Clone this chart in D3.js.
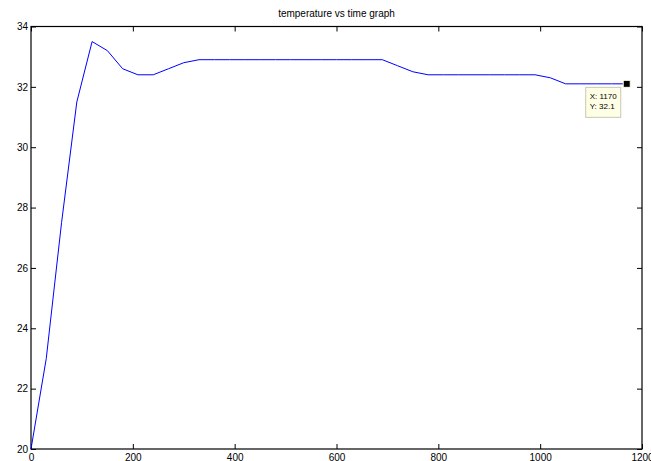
<!DOCTYPE html>
<html lang="en">
<head>
    <meta charset="UTF-8">
    <title>temperature vs time graph</title>
    <script src="https://d3js.org/d3.v7.min.js"></script>
    <style>
        html, body { margin: 0; padding: 0; background: #fff; overflow: hidden; }
        svg { display: block; font-family: "Liberation Sans", Arial, sans-serif; }
        .axis text { font-size: 10px; fill: #000; }
        .axis line { stroke: #000; }
    </style>
</head>
<body>
    <div id="chart"></div>
    <script>
        var chartTitle = "temperature vs time graph";

        var times = [0, 30, 60, 90, 120, 150, 180, 210, 240, 270, 300, 330, 360, 390,
            420, 450, 480, 510, 540, 570, 600, 630, 660, 690, 720, 750, 780, 810,
            840, 870, 900, 930, 960, 990, 1020, 1050, 1080, 1110, 1140, 1170];

        var temps = [20, 23, 27.5, 31.5, 33.5, 33.2, 32.6, 32.4, 32.4, 32.6, 32.8, 32.9,
            32.9, 32.9, 32.9, 32.9, 32.9, 32.9, 32.9, 32.9, 32.9, 32.9, 32.9, 32.9,
            32.7, 32.5, 32.4, 32.4, 32.4, 32.4, 32.4, 32.4, 32.4, 32.4, 32.3, 32.1,
            32.1, 32.1, 32.1, 32.1];

        var xTicks = [0, 200, 400, 600, 800, 1000, 1200];
        var yTicks = [20, 22, 24, 26, 28, 30, 32, 34];

        // data cursor point
        var cursorIndex = 39;

        var data = times.map(function (t, i) { return { t: t, v: temps[i] }; });

        var W = 651, H = 461;
        var margin = { top: 26.5, right: 9, bottom: 12, left: 31 },
            width = W - margin.left - margin.right,
            height = H - margin.top - margin.bottom;

        var svg = d3.select("#chart").append("svg")
            .attr("width", W)
            .attr("height", H);

        var g = svg.append("g")
            .attr("transform", "translate(" + margin.left + "," + margin.top + ")");

        var x = d3.scaleLinear().domain([0, 1200]).range([0, width]);
        var y = d3.scaleLinear().domain([20, 34]).range([height, 0]);

        // inward ticks, MATLAB style
        g.append("g")
            .attr("class", "axis")
            .attr("transform", "translate(0," + height + ")")
            .call(d3.axisBottom(x).tickValues(xTicks).tickFormat(d3.format("d"))
                .tickSizeInner(-5).tickSizeOuter(0).tickPadding(5))
            .call(function (s) { s.select(".domain").remove(); });

        g.append("g")
            .attr("class", "axis")
            .call(d3.axisTop(x).tickValues(xTicks).tickSizeInner(-5).tickSizeOuter(0).tickFormat(""))
            .call(function (s) { s.select(".domain").remove(); });

        g.append("g")
            .attr("class", "axis")
            .call(d3.axisLeft(y).tickValues(yTicks).tickSizeInner(-5).tickSizeOuter(0).tickPadding(3))
            .call(function (s) { s.select(".domain").remove(); });

        g.append("g")
            .attr("class", "axis")
            .attr("transform", "translate(" + width + ",0)")
            .call(d3.axisRight(y).tickValues(yTicks).tickSizeInner(-5).tickSizeOuter(0).tickFormat(""))
            .call(function (s) { s.select(".domain").remove(); });

        // box
        g.append("rect")
            .attr("x", 0)
            .attr("y", 0)
            .attr("width", width)
            .attr("height", height)
            .attr("fill", "none")
            .attr("stroke", "#000")
            .attr("stroke-width", 1.2);

        var line = d3.line()
            .x(function (d) { return x(d.t); })
            .y(function (d) { return y(d.v); });

        g.append("path")
            .datum(data)
            .attr("fill", "none")
            .attr("stroke", "#0000ff")
            .attr("stroke-width", 1)
            .attr("d", line);

        // title
        svg.append("text")
            .attr("x", margin.left + width / 2)
            .attr("y", 16.5)
            .attr("text-anchor", "middle")
            .attr("font-size", 10)
            .text(chartTitle);

        // data cursor
        var cp = data[cursorIndex];
        var cx = x(cp.t), cy = y(cp.v);

        g.append("rect")
            .attr("x", cx - 3.5)
            .attr("y", cy - 3.5)
            .attr("width", 7)
            .attr("height", 7)
            .attr("fill", "#000")
            .attr("stroke", "#ffffe0")
            .attr("stroke-width", 1);

        var tip = g.append("g")
            .attr("transform", "translate(" + (cx - 41) + "," + (cy + 3.5) + ")");

        tip.append("rect")
            .attr("width", 35)
            .attr("height", 30)
            .attr("fill", "#ffffe6")
            .attr("stroke", "#c8c8b4")
            .attr("stroke-width", 1);

        tip.append("text")
            .attr("x", 4)
            .attr("y", 12)
            .attr("font-size", 8)
            .text("X: " + cp.t);

        tip.append("text")
            .attr("x", 4)
            .attr("y", 22)
            .attr("font-size", 8)
            .text("Y: " + cp.v);
    </script>
</body>
</html>
